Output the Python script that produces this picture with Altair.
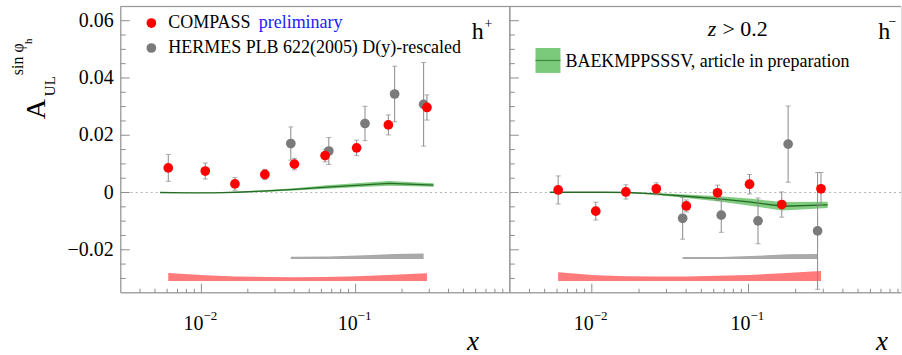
import altair as alt
import pandas as pd

FONT = "Liberation Serif"

# ---------------- data ----------------
# COMPASS x bins (shared by h+ and h-)
compass_x = [0.0061, 0.0106, 0.0165, 0.0258, 0.0401, 0.0634, 0.1015, 0.163, 0.290]
compass_hp = [0.0086, 0.0075, 0.0030, 0.0063, 0.0099, 0.0129, 0.0156, 0.0236, 0.0297]
compass_hp_err = [0.0047, 0.0028, 0.0022, 0.0018, 0.0020, 0.0022, 0.0027, 0.0035, 0.0044]
compass_hm = [0.0009, -0.0065, 0.0002, 0.0013, -0.0047, -0.0001, 0.0029, -0.0042, 0.0013]
compass_hm_err = [0.0049, 0.0031, 0.0025, 0.0021, 0.0021, 0.0027, 0.0034, 0.0044, 0.0057]
# COMPASS systematic band heights
compass_hp_sys = [0.0028, 0.0020, 0.0016, 0.0014, 0.0013, 0.0014, 0.0017, 0.0021, 0.0027]
compass_hm_sys = [0.0031, 0.0020, 0.0017, 0.0016, 0.0016, 0.0018, 0.0021, 0.0027, 0.0035]

# HERMES (D(y)-rescaled)
hermes_x = [0.038, 0.067, 0.115, 0.179, 0.276]
hermes_hp = [0.0171, 0.0145, 0.0241, 0.0344, 0.0308]
hermes_hp_err = [0.0058, 0.0047, 0.0060, 0.0097, 0.0146]
hermes_hm = [-0.0090, -0.0079, -0.0099, 0.0169, -0.0134]
hermes_hm_err = [0.0073, 0.0060, 0.0080, 0.0133, 0.0204]
hermes_hp_sys = [0.0008, 0.0009, 0.0013, 0.0017, 0.0019]
hermes_hm_sys = [0.0007, 0.0007, 0.0011, 0.0016, 0.0017]

# systematic band baselines
COMPASS_SYS_BASE = -0.0309
HERMES_SYS_BASE = -0.0232

# BAEKMPPSSSV curves: central value and half-width of the band
theory_x = [0.0054, 0.008, 0.012, 0.017, 0.025, 0.04, 0.065, 0.1, 0.165, 0.32]
theory_hp = [0.0, -0.0001, -0.0001, 0.0001, 0.0005, 0.0011, 0.0019, 0.0025, 0.0032, 0.0026]
theory_hp_w = [0.0001, 0.0001, 0.0001, 0.0002, 0.0003, 0.0004, 0.0006, 0.0007, 0.0008, 0.0006]
theory_hm = [0.0001, 0.0001, 0.0001, 0.0, -0.0005, -0.0013, -0.0022, -0.0033, -0.0048, -0.0043]
theory_hm_w = [0.0001, 0.0001, 0.0001, 0.0002, 0.0003, 0.0006, 0.0009, 0.0012, 0.0015, 0.0011]

# axis ticks and their labels
y_major = [-0.02, 0.0, 0.02, 0.04, 0.06]
y_labels = ["−0.02", "0", "0.02", "0.04", "0.06"]
y_minor = [-0.03, -0.025, -0.015, -0.01, -0.005, 0.005, 0.01, 0.015,
           0.025, 0.03, 0.035, 0.045, 0.05, 0.055]
x_major = [0.01, 0.1]
x_label_base = ["10", "10"]
x_label_exp = ["−2", "−1"]
x_minor = [0.004, 0.005, 0.006, 0.007, 0.008, 0.009,
           0.02, 0.03, 0.04, 0.05, 0.06, 0.07, 0.08, 0.09,
           0.2, 0.3, 0.4, 0.5, 0.6, 0.7, 0.8, 0.9]

# ---------------- style ----------------
RED = "#ff0000"
GRAY_PT = "#7a7a7a"
ERR = "#8a8a8a"
FRAME = "#8e8e8e"
GREEN = "#74c674"
DARK_GREEN = "#256b25"
RED_BAND = "#ff7a7a"
GRAY_BAND = "#a9a9a9"

X_MIN = 0.003
Y_DOMAIN = [-0.035, 0.065]
PANEL_H = 287

yscale = alt.Scale(domain=Y_DOMAIN, nice=False, zero=False)
one = pd.DataFrame({"a": [0]})


def points_df(x, y, err):
    return pd.DataFrame({"x": x, "y": y,
                         "lo": [v - e for v, e in zip(y, err)],
                         "hi": [v + e for v, e in zip(y, err)]})


def text(t, x, y, size, **kw):
    return alt.Chart(one).mark_text(text=t, font=FONT, fontSize=size, color=kw.pop("color", "black"),
                                    align=kw.pop("align", "left"), baseline=kw.pop("baseline", "alphabetic"),
                                    **kw).encode(x=alt.value(x), y=alt.value(y))


def panel(width, xmax, cy, cerr, csys, hy, herr, hsys, tc, tw, show_y_labels, extras):
    xscale = alt.Scale(type="log", domain=[X_MIN, xmax], nice=False)

    def X(f):
        return alt.X(f, type="quantitative", scale=xscale, axis=None)

    def Y(f):
        return alt.Y(f, type="quantitative", scale=yscale, axis=None)

    comp = points_df(compass_x, cy, cerr)
    herm = points_df(hermes_x, hy, herr)
    csys_df = pd.DataFrame({"x": compass_x, "base": [COMPASS_SYS_BASE] * len(compass_x),
                            "top": [COMPASS_SYS_BASE + s for s in csys]})
    hsys_df = pd.DataFrame({"x": hermes_x, "base": [HERMES_SYS_BASE] * len(hermes_x),
                            "top": [HERMES_SYS_BASE + s for s in hsys]})
    th = pd.DataFrame({"x": theory_x, "c": tc,
                       "lo": [c - w for c, w in zip(tc, tw)],
                       "hi": [c + w for c, w in zip(tc, tw)]})

    layers = [
        alt.Chart(csys_df).mark_area(color=RED_BAND, opacity=1).encode(x=X("x"), y=Y("base"), y2="top"),
        alt.Chart(hsys_df).mark_area(color=GRAY_BAND, opacity=1).encode(x=X("x"), y=Y("base"), y2="top"),
        alt.Chart(pd.DataFrame({"v": [0.0]})).mark_rule(color="#b5b5b5", strokeDash=[2, 3], strokeWidth=1)
        .encode(y=Y("v"), x=alt.value(0), x2=alt.value(width)),
        alt.Chart(th).mark_area(color=GREEN, opacity=0.9).encode(x=X("x"), y=Y("lo"), y2="hi"),
        alt.Chart(th).mark_line(color=DARK_GREEN, strokeWidth=1.3).encode(x=X("x"), y=Y("c")),
    ]
    for df, col in ((herm, GRAY_PT), (comp, RED)):
        layers += [
            alt.Chart(df).mark_rule(color=ERR, strokeWidth=1).encode(x=X("x"), y=Y("lo"), y2="hi"),
            alt.Chart(df).mark_tick(orient="horizontal", size=5, thickness=1, color=ERR)
            .encode(x=X("x"), y=Y("lo")),
            alt.Chart(df).mark_tick(orient="horizontal", size=5, thickness=1, color=ERR)
            .encode(x=X("x"), y=Y("hi")),
        ]
    layers.append(alt.Chart(herm).mark_circle(size=95, color=GRAY_PT, opacity=1)
                  .encode(x=X("x"), y=Y("y")))
    layers.append(alt.Chart(comp).mark_circle(size=95, color=RED, opacity=1)
                  .encode(x=X("x"), y=Y("y")))

    # inward tick marks
    layers += [
        alt.Chart(pd.DataFrame({"v": y_major})).mark_rule(color=FRAME)
        .encode(y=Y("v"), x=alt.value(0), x2=alt.value(9)),
        alt.Chart(pd.DataFrame({"v": y_minor})).mark_rule(color=FRAME)
        .encode(y=Y("v"), x=alt.value(0), x2=alt.value(5)),
        alt.Chart(pd.DataFrame({"v": x_major})).mark_rule(color=FRAME)
        .encode(x=X("v"), y=alt.value(PANEL_H), y2=alt.value(PANEL_H - 9)),
        alt.Chart(pd.DataFrame({"v": [v for v in x_minor if v < xmax]})).mark_rule(color=FRAME)
        .encode(x=X("v"), y=alt.value(PANEL_H), y2=alt.value(PANEL_H - 4)),
    ]
    # tick labels: 10 with a raised exponent
    xl = pd.DataFrame({"v": x_major, "b": x_label_base, "e": x_label_exp})
    layers += [
        alt.Chart(xl).mark_text(font=FONT, fontSize=20, align="right", baseline="alphabetic", dx=2)
        .encode(x=X("v"), y=alt.value(PANEL_H + 37), text="b:N"),
        alt.Chart(xl).mark_text(font=FONT, fontSize=13, align="left", baseline="alphabetic", dx=2)
        .encode(x=X("v"), y=alt.value(PANEL_H + 27), text="e:N"),
    ]
    if show_y_labels:
        yl = pd.DataFrame({"v": y_major, "t": y_labels})
        layers.append(alt.Chart(yl).mark_text(font=FONT, fontSize=20, align="right", baseline="middle", dx=-7)
                      .encode(y=Y("v"), x=alt.value(0), text="t:N"))
    # frame: top, bottom, left
    layers += [
        alt.Chart(one).mark_rule(color=FRAME).encode(x=alt.value(0), x2=alt.value(width), y=alt.value(0)),
        alt.Chart(one).mark_rule(color=FRAME).encode(x=alt.value(0), x2=alt.value(width), y=alt.value(PANEL_H)),
        alt.Chart(one).mark_rule(color=FRAME).encode(x=alt.value(0), y=alt.value(0), y2=alt.value(PANEL_H)),
    ]
    layers += extras
    return alt.layer(*layers).properties(width=width, height=PANEL_H)


# left panel decorations: y title, legend, label
left_extras = [
    # keeps the plot origin at a fixed offset from the page corner
    alt.Chart(one).mark_rule(opacity=0, strokeWidth=1)
    .encode(x=alt.value(-120), x2=alt.value(-119), y=alt.value(-5)),
    alt.Chart(one).mark_rule(color=FRAME).encode(x=alt.value(390), y=alt.value(0), y2=alt.value(PANEL_H)),
    text("A", -84, 103, 28, angle=270, align="center", baseline="middle"),
    text("UL", -71, 80, 15, angle=270, align="center", baseline="middle"),
    text("sin φ", -103, 53, 16, angle=270, align="center", baseline="middle"),
    text("h", -92, 35, 11, angle=270, align="center", baseline="middle"),
    alt.Chart(one).mark_circle(size=95, color=RED, opacity=1).encode(x=alt.value(30.7), y=alt.value(16.7)),
    alt.Chart(one).mark_circle(size=95, color=GRAY_PT, opacity=1).encode(x=alt.value(30.7), y=alt.value(41.7)),
    text("COMPASS", 47.7, 21.7, 18),
    text("preliminary", 138.3, 21.7, 18, color="#2020ff"),
    text("HERMES PLB 622(2005) D(y)-rescaled", 47.7, 46.7, 18),
    text("h", 351.7, 32.3, 24),
    text("+", 368.5, 17.5, 14, align="center", baseline="middle"),
    text("x", 353, 344, 27, fontStyle="italic", align="center"),
]

right_extras = [
    text("z", 198.3, 30, 22, fontStyle="italic"),
    text("> 0.2", 213, 30, 22),
    alt.Chart(one).mark_rect(color=GREEN, opacity=0.95)
    .encode(x=alt.value(25.7), x2=alt.value(50.7), y=alt.value(41.7), y2=alt.value(66.7)),
    alt.Chart(one).mark_rule(color="#3f8f3f", strokeWidth=1.3)
    .encode(x=alt.value(25.7), x2=alt.value(50.7), y=alt.value(54.2)),
    text("BAEKMPPSSSV, article in preparation", 55.7, 60.7, 18),
    text("h", 369.3, 32.3, 24),
    text("−", 383.5, 15.7, 14, align="center", baseline="middle"),
    text("x", 373, 344, 27, fontStyle="italic", align="center"),
]

left = panel(390, 1.0, compass_hp, compass_hp_err, compass_hp_sys,
             hermes_hp, hermes_hp_err, hermes_hp_sys, theory_hp, theory_hp_w, True, left_extras)
right = panel(392, 0.94, compass_hm, compass_hm_err, compass_hm_sys,
              hermes_hm, hermes_hm_err, hermes_hm_sys, theory_hm, theory_hm_w, False, right_extras)

chart = alt.hconcat(left, right, spacing=0, bounds="flush").properties(
    padding={"left": 0, "top": 0, "right": 0, "bottom": 0}
).configure_view(stroke=None).configure(background="white")

chart.save("out.html", embed_options={"renderer": "svg", "actions": False})
